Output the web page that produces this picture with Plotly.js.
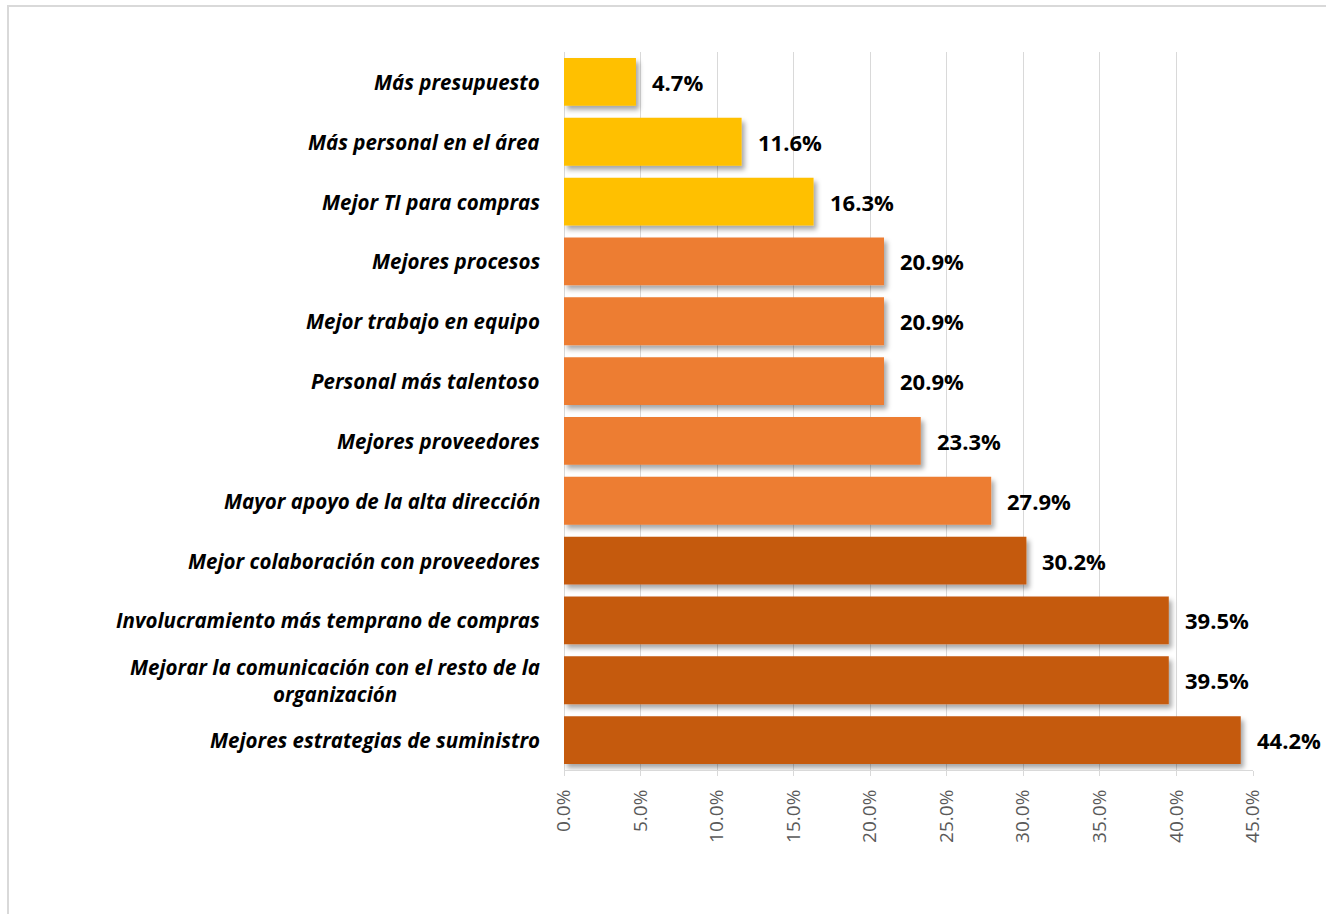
<!DOCTYPE html>
<html>
<head>
<meta charset="utf-8">
<script src="https://cdn.plot.ly/plotly-3.0.1.min.js"></script>
<style>
  html, body { margin: 0; padding: 0; background: #ffffff; overflow: hidden; }
  #chart { position: absolute; left: 0; top: 0; width: 1326px; height: 914px; }
  #frame { position: absolute; left: 7px; top: 5px; width: 1340px; height: 940px;
           border: 2px solid #d9d9d9; pointer-events: none; box-sizing: border-box; }
</style>
</head>
<body>
<div id="chart"></div>
<div id="frame"></div>
<script>
// ---- data (top to bottom as shown) ----
const categories = [
  "Más presupuesto",
  "Más personal en el área",
  "Mejor TI para compras",
  "Mejores procesos",
  "Mejor trabajo en equipo",
  "Personal más talentoso",
  "Mejores proveedores",
  "Mayor apoyo de la alta dirección",
  "Mejor colaboración con proveedores",
  "Involucramiento más temprano de compras",
  "Mejorar la comunicación con el resto de la<br>organización",
  "Mejores estrategias de suministro"
];
const values = [4.7, 11.6, 16.3, 20.9, 20.9, 20.9, 23.3, 27.9, 30.2, 39.5, 39.5, 44.2];
const groups = [0, 0, 0, 1, 1, 1, 1, 1, 2, 2, 2, 2];
const xTickValues = [0, 5, 10, 15, 20, 25, 30, 35, 40, 45];

// ---- styles ----
const palette = ["#FFC000", "#ED7D31", "#C55A11"];
const barColors = groups.map(g => palette[g]);

const barTrace = {
  type: "bar",
  orientation: "h",
  x: values,
  y: categories,
  marker: { color: barColors, line: { width: 0 } },
  hoverinfo: "skip",
  showlegend: false
};

const valueLabels = values.map((v, i) => ({
  x: v, y: categories[i], xref: "x", yref: "y",
  text: v.toFixed(1) + "%",
  showarrow: false, xanchor: "left", yanchor: "middle", xshift: 14,
  font: { family: "Open Sans, sans-serif", size: 22, color: "#000000", weight: 700 }
}));

const categoryLabels = categories.map(c => ({
  x: 0, y: c, xref: "paper", yref: "y",
  text: "<b><i>" + c + "</i></b>",
  showarrow: false, xanchor: "right", yanchor: "middle", align: "center",
  xshift: -22,
  font: { family: "Open Sans, sans-serif", size: 20.5, color: "#000000" }
}));

const layout = {
  width: 1326, height: 914,
  margin: { l: 564, r: 73, t: 52, b: 144 },
  paper_bgcolor: "rgba(0,0,0,0)",
  plot_bgcolor: "rgba(0,0,0,0)",
  bargap: 0.2,
  xaxis: {
    range: [0, 45],
    tickvals: xTickValues,
    ticktext: xTickValues.map(v => v.toFixed(1) + "%"),
    tickangle: -90,
    showgrid: true, gridcolor: "#d9d9d9", gridwidth: 1,
    zeroline: true, zerolinecolor: "#d9d9d9", zerolinewidth: 1,
    showline: true, linecolor: "#d9d9d9", linewidth: 1,
    ticks: "outside", ticklen: 5, tickcolor: "#d9d9d9",
    ticklabelstandoff: 6,
    tickfont: { family: "Open Sans, sans-serif", size: 19, color: "#595959" },
    fixedrange: true
  },
  yaxis: {
    autorange: "reversed",
    showticklabels: false,
    showgrid: false, zeroline: false, showline: false, ticks: "",
    fixedrange: true
  },
  annotations: valueLabels.concat(categoryLabels)
};

Plotly.newPlot("chart", [barTrace], layout, { displayModeBar: false, staticPlot: true }).then(gd => {
  const svg = gd.querySelector("svg.main-svg");
  const ns = "http://www.w3.org/2000/svg";
  let defs = svg.querySelector("defs");
  if (!defs) { defs = document.createElementNS(ns, "defs"); svg.insertBefore(defs, svg.firstChild); }
  const f = document.createElementNS(ns, "filter");
  f.setAttribute("id", "barShadow");
  f.setAttribute("x", "-10%"); f.setAttribute("y", "-20%");
  f.setAttribute("width", "130%"); f.setAttribute("height", "160%");
  const ds = document.createElementNS(ns, "feDropShadow");
  ds.setAttribute("dx", "3"); ds.setAttribute("dy", "4");
  ds.setAttribute("stdDeviation", "2.5");
  ds.setAttribute("flood-color", "#000000");
  ds.setAttribute("flood-opacity", "0.35");
  f.appendChild(ds);
  defs.appendChild(f);
  gd.querySelectorAll(".trace.bars .point path").forEach(p => p.setAttribute("filter", "url(#barShadow)"));
});
</script>
</body>
</html>
